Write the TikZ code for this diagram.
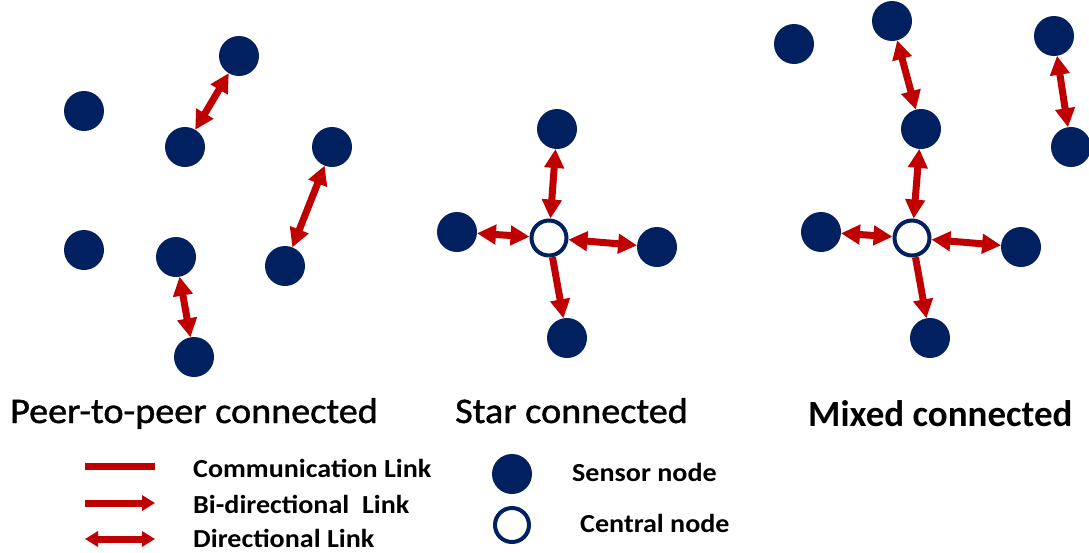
\documentclass[tikz,border=0pt]{standalone}
\usepackage{fontspec}
\setmainfont{Carlito}
\newfontfamily\titlefont[FakeStretch=1.06,FakeBold=1.2]{Carlito}
\newfontfamily\keyfont[FakeStretch=1.08]{Carlito}
\usetikzlibrary{arrows.meta}
\definecolor{sensorblue}{RGB}{0,32,96}
\definecolor{linkred}{RGB}{192,0,0}
\begin{document}
\begin{tikzpicture}[x=1pt,y=-1pt,
  sensor/.style={circle,fill=sensorblue,minimum size=40pt,inner sep=0pt,outer sep=0pt},
  hub/.style={circle,draw=sensorblue,line width=4pt,fill=white,minimum size=35pt,inner sep=0pt},
  bighead/.tip={Triangle[width=19pt,length=19pt]},
  smallhead/.tip={Triangle[width=15pt,length=13pt]},
  link/.style={draw=linkred,line width=7pt},
  twoway/.style={link,bighead-bighead},
  oneway/.style={link,-bighead},
  title/.style={anchor=base west,inner sep=0pt,font=\fontsize{36pt}{40pt}\titlefont},
  legend/.style={anchor=base west,inner sep=0pt,font=\fontsize{26pt}{30pt}\keyfont\bfseries}]
\fill[white] (0,0) rectangle (1089,552);
\useasboundingbox (0,0) rectangle (1089,552);

% peer-to-peer network
\node[sensor] (p1) at (84,111) {};
\node[sensor] (p2) at (239,56) {};
\node[sensor] (p3) at (185,147) {};
\node[sensor] (p4) at (332,147) {};
\node[sensor] (p5) at (84,250) {};
\node[sensor] (p6) at (176,257) {};
\node[sensor] (p7) at (285,266) {};
\node[sensor] (p8) at (194,357) {};
\draw[twoway] (p2) -- (p3);
\draw[twoway] (p4) -- (p7);
\draw[twoway] (p6) -- (p8);

% star network
\node[hub] (s0) at (549,238) {};
\node[sensor] (st) at (557,129) {};
\node[sensor] (sl) at (457,232) {};
\node[sensor] (sr) at (657,247) {};
\node[sensor] (sb) at (567,338) {};
\draw[twoway] (st) -- (s0);
\draw[twoway] (sl) -- (s0);
\draw[twoway] (s0) -- (sr);
\draw[oneway] (s0) -- (sb);

% mixed network
\node[hub] (m0) at (912,238) {};
\node[sensor] (m1) at (794,44) {};
\node[sensor] (m2) at (892,21) {};
\node[sensor] (m3) at (921,129) {};
\node[sensor] (m4) at (1054,36) {};
\node[sensor] (m5) at (1071,147) {};
\node[sensor] (ml) at (821,232) {};
\node[sensor] (mr) at (1021,247) {};
\node[sensor] (mb) at (930,338) {};
\draw[twoway] (m2) -- (m3);
\draw[twoway] (m3) -- (m0);
\draw[twoway] (ml) -- (m0);
\draw[twoway] (m0) -- (mr);
\draw[oneway] (m0) -- (mb);
\draw[twoway] (m4) -- (m5);

% titles
\node[title] (t1) at (10,423) {Peer-to-peer connected};
\node[title] (t2) at (455,423) {Star connected};
\node[title,font=\fontsize{37pt}{40pt}\selectfont\bfseries] (t3) at (808,426) {Mixed connected};

% legend
\coordinate (l1a) at (85,466); \coordinate (l1b) at (155,466);
\coordinate (l2a) at (85,503); \coordinate (l2b) at (155,503);
\coordinate (l3a) at (85,539); \coordinate (l3b) at (155,539);
\draw[link] (l1a) -- (l1b);
\draw[link,-smallhead] (l2a) -- (l2b);
\draw[link,smallhead-smallhead] (l3a) -- (l3b);
\node[legend] (k1) at (193,477) {Communication Link};
\node[legend] (k2) at (193,513) {Bi-directional\ \ Link};
\node[legend] (k3) at (193,547) {Directional Link};
\node[sensor] (ks) at (512,474) {};
\node[hub,minimum size=34pt] (kc) at (512,525) {};
\node[legend] (k4) at (572,481) {Sensor node};
\node[legend] (k5) at (580,532) {Central node};
\end{tikzpicture}
\end{document}
